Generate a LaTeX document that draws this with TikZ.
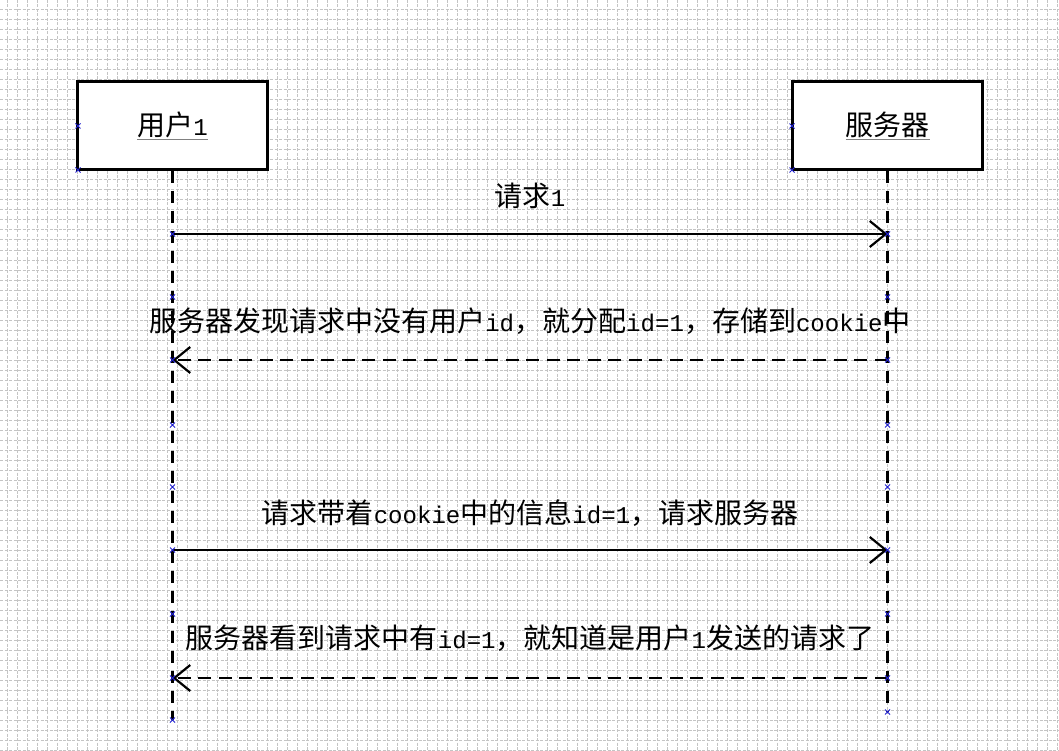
\documentclass[tikz,border=0pt]{standalone}
\usepackage{fontspec}
\setmainfont{Noto Sans CJK SC}
\newfontfamily\monolat[Scale=0.86]{Liberation Mono}
\newcommand\ltn[1]{{\monolat #1}}
\usetikzlibrary{arrows.meta}
\definecolor{gridc}{HTML}{C4C4C4}
\definecolor{markc}{HTML}{2020D0}
\tikzset{
  gridline/.style={gridc, line width=1pt, dash pattern=on 3pt off 1.5pt},
  actor/.style={draw=black, line width=2.4pt, fill=white, minimum width=190pt, minimum height=88pt, inner sep=0pt, font=\fontsize{28}{28}\selectfont},
  lifeline/.style={line width=2.2pt, dash pattern=on 12.5pt off 7.5pt},
  msg/.style={line width=2.2pt, -{Straight Barb[length=16pt,width=26pt,line width=2.2pt]}},
  reply/.style={msg, dash pattern=on 13pt off 7.5pt},
  lbl/.style={font=\fontsize{28}{28}\selectfont, inner sep=0pt},
  mk/.style={markc, line width=1pt}
}
\newcommand\ul[1]{{\color{gray}\underline{\color{black}#1}}}
\begin{document}
\begin{tikzpicture}[x=1pt,y=-1pt]
\useasboundingbox (0,0) rectangle (1059,751);
\fill[white] (0,0) rectangle (1059,751);
\foreach \x in {7,17,...,1057} \draw[gridline] (\x,0) -- (\x,751);
\foreach \y in {10,20,...,750} \draw[gridline] (0,\y) -- (1059,\y);

\node[actor] (u) at (172.5,125.5) {\ul{用户\ltn{1}}};
\node[actor] (s) at (887.5,125.5) {\ul{服务器}};

\coordinate (uend) at (172.5,720);
\coordinate (send) at (887.5,712);
\draw[lifeline] (u.south) -- (uend);
\draw[lifeline] (s.south) -- (send);

\coordinate (u1) at (172.5,234);
\coordinate (s1) at (887.5,234);
\coordinate (u2) at (172.5,360);
\coordinate (s2) at (887.5,360);
\coordinate (u3) at (172.5,550);
\coordinate (s3) at (887.5,550);
\coordinate (u4) at (172.5,678);
\coordinate (s4) at (887.5,678);

\draw[msg] (u1) -- (s1);
\draw[reply] (s2) -- (u2);
\draw[msg] (u3) -- (s3);
\draw[reply] (s4) -- (u4);

\node[lbl] (m1) at (530,196) {请求\ltn{1}};
\node[lbl] (m2) at (530,321) {服务器发现请求中没有用户\ltn{id}，就分配\ltn{id=1}，存储到\ltn{cookie}中};
\node[lbl] (m3) at (530,513) {请求带着\ltn{cookie}中的信息\ltn{id=1}，请求服务器};
\node[lbl] (m4) at (530,638) {服务器看到请求中有\ltn{id=1}，就知道是用户\ltn{1}发送的请求了};

\foreach \p in {(78,126),(78,170),(792,126),(792,170),(172.5,234),(887.5,234),(172.5,297),(887.5,297),(172.5,360),(887.5,360),(172.5,425),(887.5,425),(172.5,487),(887.5,487),(172.5,550),(887.5,550),(172.5,614),(887.5,614),(172.5,678),(887.5,678),(172.5,720),(887.5,712)}
  \draw[mk] \p ++(-2.5,-2.5) -- ++(5,5) \p ++(-2.5,2.5) -- ++(5,-5);
\end{tikzpicture}
\end{document}
